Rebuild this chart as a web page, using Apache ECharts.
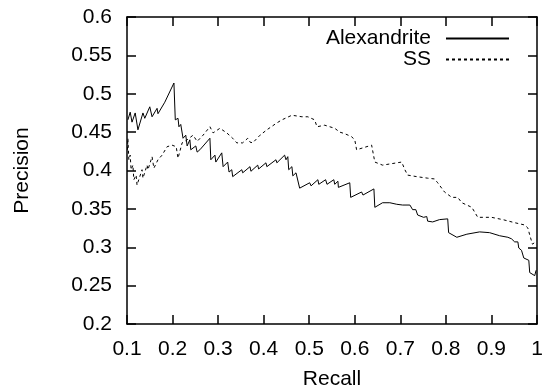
<!DOCTYPE html>
<html>
<head>
<meta charset="utf-8">
<script src="https://cdn.jsdelivr.net/npm/echarts@6/dist/echarts.min.js"></script>
<style>
  html, body { margin: 0; padding: 0; background: #fff; }
  #chart { width: 543px; height: 389px; }
</style>
</head>
<body>
<div id="chart"></div>
<script>
// values
const alexRecall = [0.102, 0.107, 0.111, 0.118, 0.124, 0.135, 0.139, 0.150, 0.155, 0.166, 0.168, 0.183, 0.203, 0.205,
  0.206, 0.212, 0.214, 0.218, 0.223, 0.229, 0.232, 0.238, 0.240, 0.251, 0.254, 0.260, 0.282, 0.284, 0.293, 0.295,
  0.308, 0.311, 0.321, 0.324, 0.330, 0.332, 0.352, 0.354, 0.370, 0.372, 0.387, 0.389, 0.405, 0.407, 0.427, 0.429,
  0.446, 0.449, 0.453, 0.455, 0.462, 0.464, 0.471, 0.479, 0.501, 0.504, 0.519, 0.521, 0.536, 0.539, 0.554, 0.556,
  0.563, 0.564, 0.589, 0.591, 0.615, 0.618, 0.642, 0.644, 0.661, 0.677, 0.692, 0.705, 0.721, 0.725, 0.727, 0.734,
  0.738, 0.751, 0.758, 0.760, 0.771, 0.786, 0.804, 0.806, 0.824, 0.846, 0.874, 0.896, 0.918, 0.936, 0.944, 0.951,
  0.958, 0.960, 0.966, 0.971, 0.982, 0.984, 0.995, 0.998];
const alexPrecision = [0.466, 0.476, 0.463, 0.475, 0.453, 0.475, 0.468, 0.483, 0.470, 0.481, 0.474, 0.489, 0.514, 0.514,
  0.466, 0.468, 0.457, 0.460, 0.442, 0.446, 0.432, 0.440, 0.427, 0.432, 0.424, 0.427, 0.442, 0.414, 0.420, 0.411,
  0.423, 0.405, 0.411, 0.398, 0.401, 0.392, 0.401, 0.397, 0.405, 0.399, 0.407, 0.402, 0.410, 0.405, 0.414, 0.410,
  0.420, 0.414, 0.418, 0.401, 0.405, 0.393, 0.397, 0.377, 0.384, 0.380, 0.388, 0.382, 0.388, 0.382, 0.388, 0.382,
  0.386, 0.378, 0.384, 0.365, 0.372, 0.368, 0.376, 0.352, 0.358, 0.358, 0.356, 0.355, 0.355, 0.357, 0.349, 0.349,
  0.342, 0.339, 0.340, 0.334, 0.333, 0.336, 0.337, 0.319, 0.313, 0.317, 0.320, 0.319, 0.315, 0.313, 0.311, 0.307,
  0.307, 0.299, 0.296, 0.286, 0.283, 0.267, 0.263, 0.270];

const ssRecall = [0.101, 0.102, 0.104, 0.107, 0.109, 0.113, 0.115, 0.120, 0.122, 0.133, 0.135, 0.144, 0.146, 0.155,
  0.159, 0.168, 0.177, 0.188, 0.199, 0.208, 0.212, 0.221, 0.232, 0.245, 0.254, 0.267, 0.282, 0.289, 0.304, 0.319,
  0.332, 0.341, 0.354, 0.365, 0.370, 0.376, 0.392, 0.407, 0.429, 0.440, 0.462, 0.484, 0.497, 0.512, 0.517, 0.534,
  0.556, 0.567, 0.578, 0.593, 0.600, 0.604, 0.637, 0.641, 0.644, 0.661, 0.703, 0.710, 0.716, 0.736, 0.760, 0.775,
  0.782, 0.797, 0.813, 0.826, 0.835, 0.857, 0.863, 0.870, 0.900, 0.925, 0.951, 0.973, 0.980, 0.984, 0.990, 0.997];
const ssPrecision = [0.427, 0.442, 0.414, 0.420, 0.401, 0.407, 0.388, 0.394, 0.381, 0.401, 0.390, 0.407, 0.401, 0.418,
  0.403, 0.414, 0.420, 0.431, 0.433, 0.431, 0.416, 0.436, 0.440, 0.446, 0.438, 0.446, 0.457, 0.449, 0.455, 0.449,
  0.442, 0.436, 0.436, 0.442, 0.437, 0.436, 0.446, 0.453, 0.462, 0.466, 0.472, 0.470, 0.470, 0.466, 0.457, 0.459,
  0.455, 0.450, 0.448, 0.444, 0.440, 0.427, 0.433, 0.431, 0.411, 0.407, 0.411, 0.401, 0.394, 0.392, 0.390, 0.389,
  0.384, 0.372, 0.365, 0.365, 0.358, 0.352, 0.346, 0.339, 0.339, 0.336, 0.332, 0.329, 0.325, 0.316, 0.304, 0.307];

const seriesNames = ["Alexandrite", "SS"];

const zip = (xs, ys) => xs.map((x, i) => [x, ys[i]]);

const font = "Liberation Sans, Arial, sans-serif";
const fontSize = 21;
const axisColor = "#000";

const chart = echarts.init(document.getElementById("chart"), null, { renderer: "canvas" });

const baseX = {
  type: "value",
  min: 0.1,
  max: 1,
  interval: 0.1,
  axisLine: { show: true, onZero: false, lineStyle: { color: axisColor, width: 1.5 } },
  axisTick: { show: true, inside: true, length: 9, lineStyle: { color: axisColor, width: 1.5 } },
  splitLine: { show: false },
};
const baseY = {
  type: "value",
  min: 0.2,
  max: 0.6,
  interval: 0.05,
  axisLine: { show: true, onZero: false, lineStyle: { color: axisColor, width: 1.5 } },
  axisTick: { show: true, inside: true, length: 9, lineStyle: { color: axisColor, width: 1.5 } },
  splitLine: { show: false },
};

const legendBase = {
  right: 33,
  align: "right",
  padding: 0,
  itemWidth: 63,
  itemHeight: 14,
  itemStyle: { opacity: 0 },
  textStyle: { fontFamily: font, fontSize: fontSize, color: "#000", padding: [0, 10, 0, 0] },
};

const option = {
  backgroundColor: "#fff",
  animation: false,
  textStyle: { fontFamily: font },
  grid: { left: 127, right: 6, top: 17, bottom: 65, outerBoundsMode: "none" },
  legend: [
    { ...legendBase, data: [seriesNames[0]], top: 28 },
    { ...legendBase, data: [seriesNames[1]], top: 49 },
  ],
  xAxis: [
    {
      ...baseX,
      position: "bottom",
      name: "Recall",
      nameLocation: "middle",
      nameGap: 45,
      nameTextStyle: { fontFamily: font, fontSize: fontSize, color: "#000" },
      axisLabel: { color: "#000", fontFamily: font, fontSize: fontSize, margin: 15 },
    },
    { ...baseX, position: "top", axisLabel: { show: false } },
  ],
  yAxis: [
    {
      ...baseY,
      position: "left",
      name: "Precision",
      nameLocation: "middle",
      nameGap: 94,
      nameTextStyle: { fontFamily: font, fontSize: fontSize, color: "#000" },
      axisLabel: { color: "#000", fontFamily: font, fontSize: fontSize, margin: 15 },
    },
    { ...baseY, position: "right", axisLabel: { show: false } },
  ],
  series: [
    {
      name: seriesNames[0],
      type: "line",
      symbol: "none",
      data: zip(alexRecall, alexPrecision),
      lineStyle: { color: "#000", width: 1 },
      itemStyle: { color: "#000" },
    },
    {
      name: seriesNames[1],
      type: "line",
      symbol: "none",
      data: zip(ssRecall, ssPrecision),
      lineStyle: { color: "#000", width: 1, type: [3, 3] },
      itemStyle: { color: "#000" },
    },
  ],
};

chart.setOption(option);
</script>
</body>
</html>
